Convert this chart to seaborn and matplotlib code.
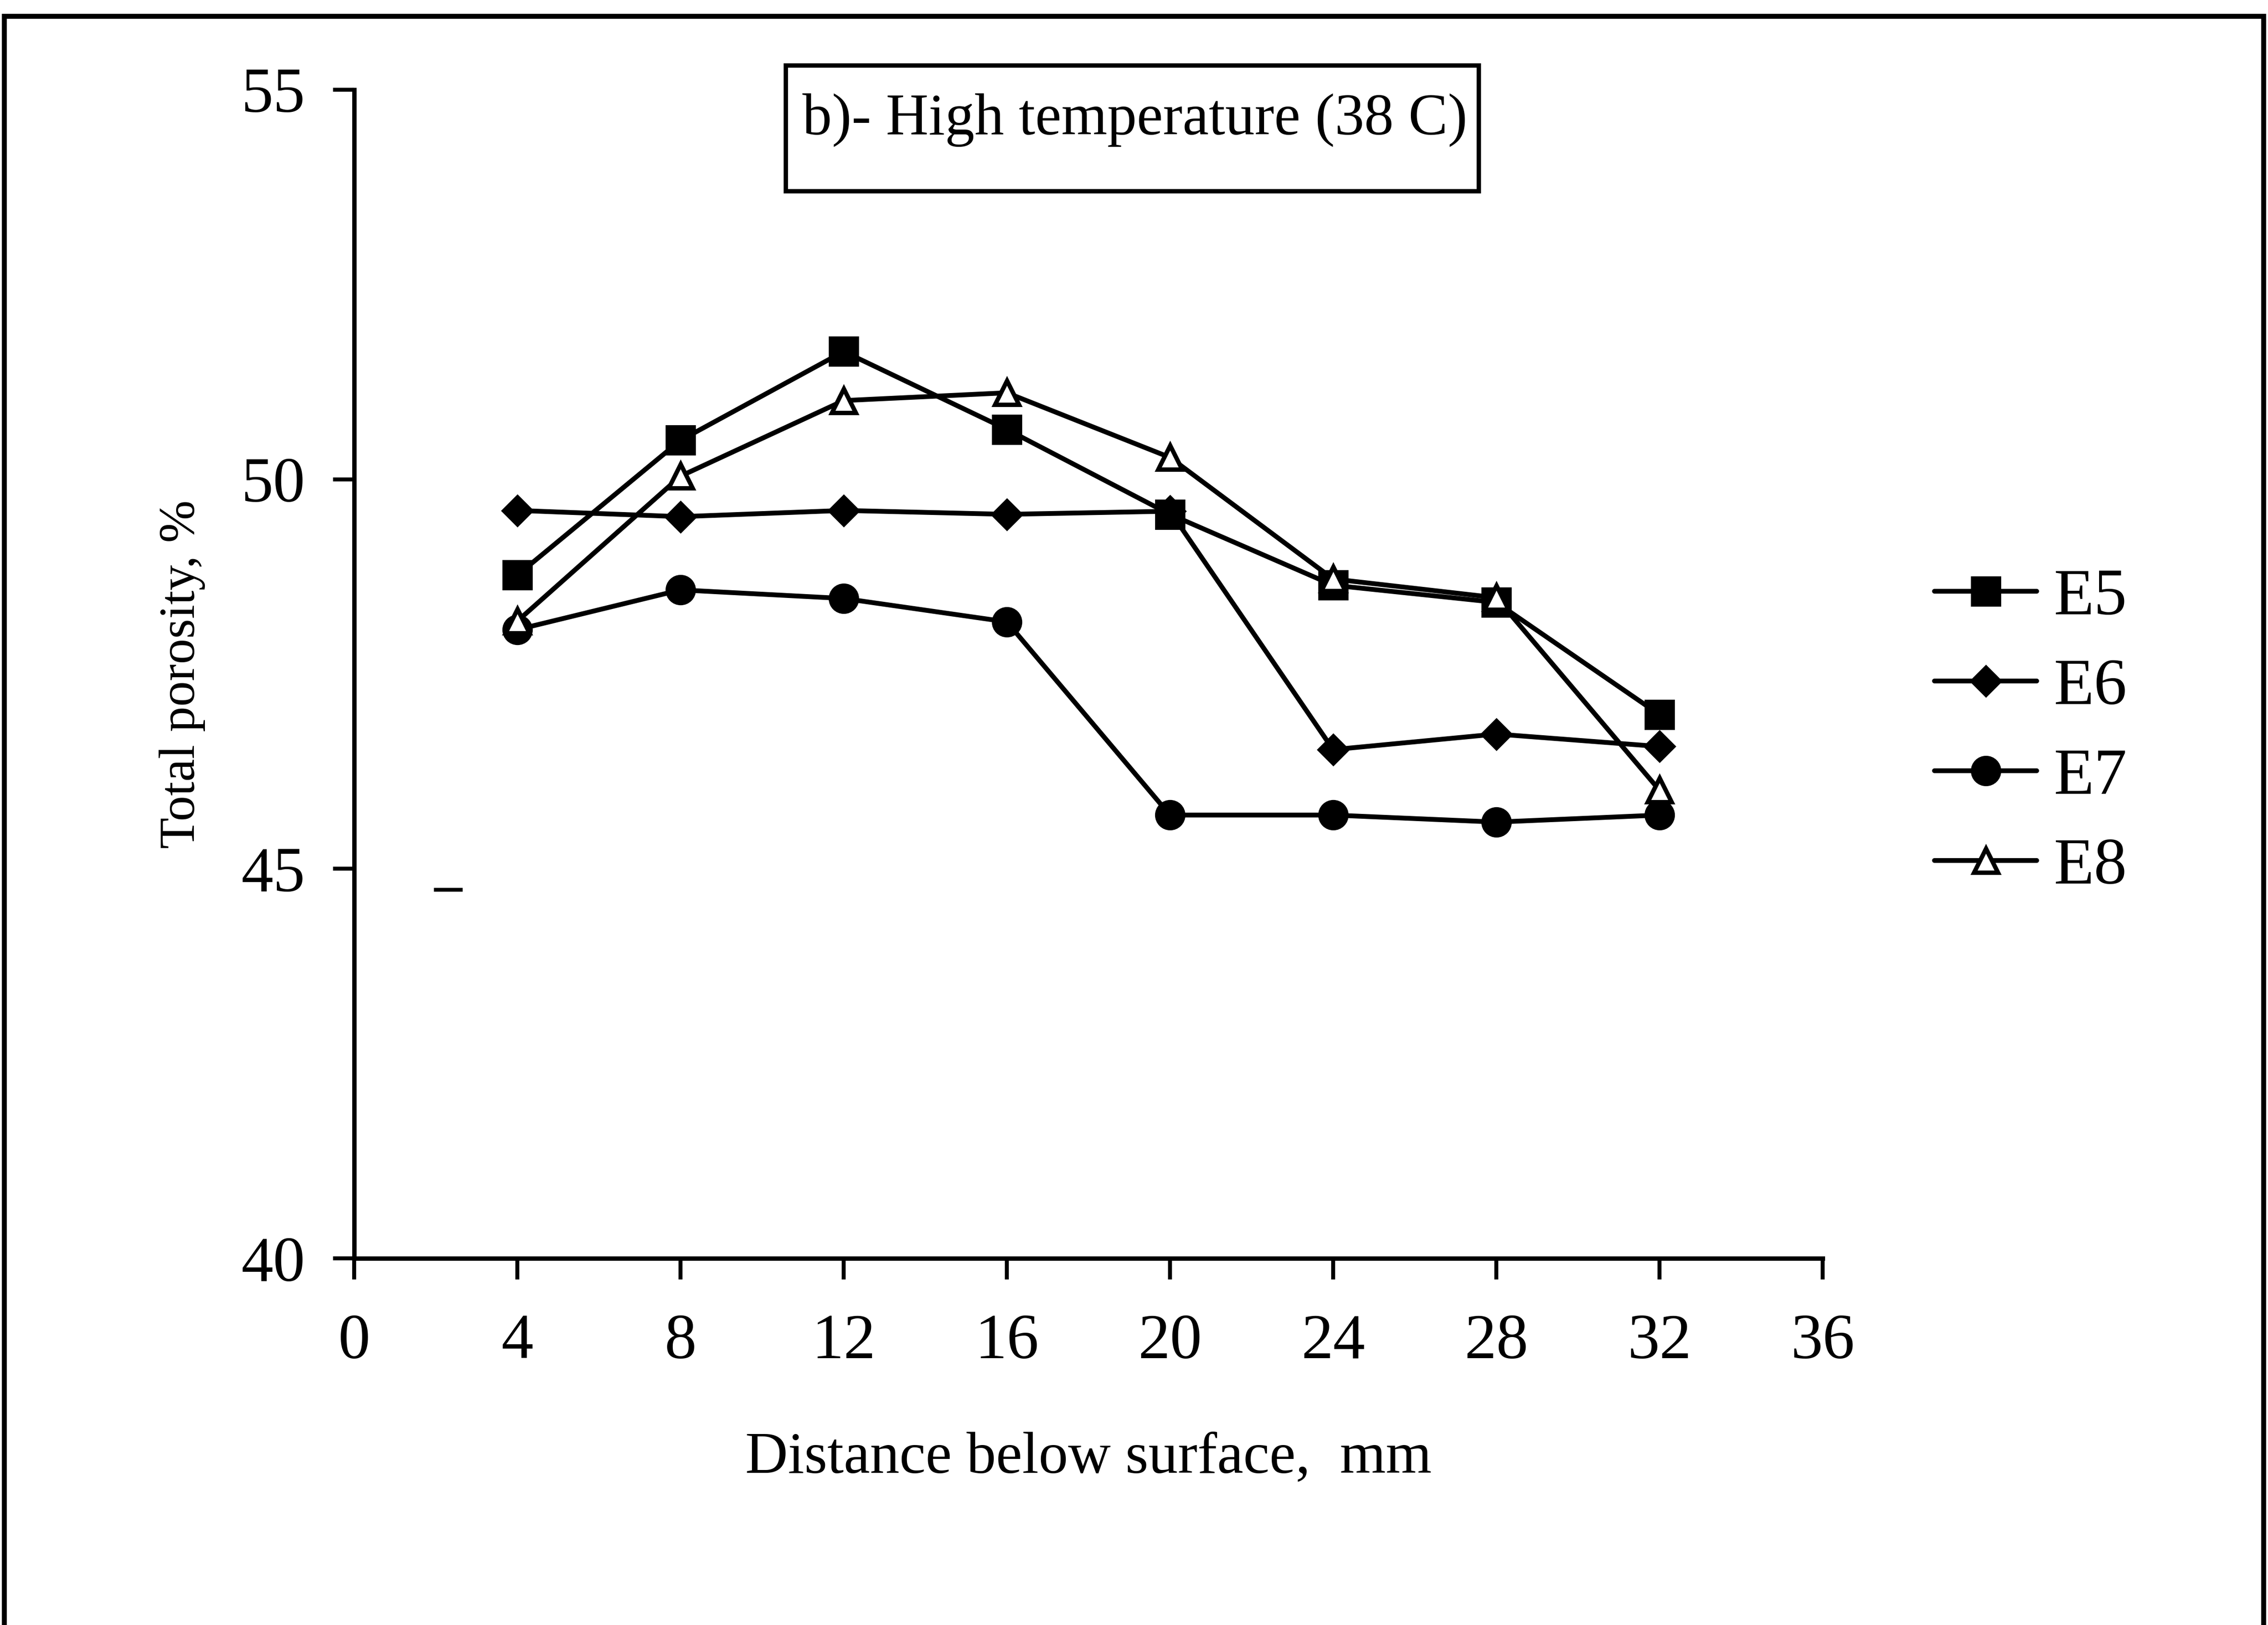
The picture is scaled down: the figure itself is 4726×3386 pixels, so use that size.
import matplotlib
matplotlib.use("Agg")
import matplotlib.pyplot as plt
from matplotlib.patches import Rectangle
import seaborn as sns
import pandas as pd

# Porosity profiles: distance below surface (mm) vs total porosity (%)
depth_mm = [4, 8, 12, 16, 20, 24, 28, 32]
porosity_e5 = [48.77, 50.50, 51.64, 50.64, 49.55, 48.64, 48.42, 46.98]
porosity_e6 = [49.60, 49.52, 49.60, 49.55, 49.59, 46.53, 46.73, 46.57]
porosity_e7 = [48.07, 48.58, 48.47, 48.17, 45.69, 45.69, 45.60, 45.69]
porosity_e8 = [48.18, 50.04, 51.01, 51.11, 50.28, 48.72, 48.48, 46.01]
series_names = ["E5", "E6", "E7", "E8"]
x_ticks = [0, 4, 8, 12, 16, 20, 24, 28, 32, 36]
y_ticks = [40, 45, 50, 55]

data = pd.DataFrame({
    "depth": depth_mm * 4,
    "porosity": porosity_e5 + porosity_e6 + porosity_e7 + porosity_e8,
    "series": [n for n in series_names for _ in depth_mm],
})

sns.set_style("ticks")
plt.rcParams["font.family"] = ["Liberation Serif", "DejaVu Serif"]
plt.rcParams.update({
    "text.color": "black",
    "axes.labelcolor": "black",
    "xtick.color": "black",
    "ytick.color": "black",
    "axes.edgecolor": "black",
})

DPI = 300
fig = plt.figure(figsize=(4726 / DPI, 3386 / DPI), dpi=DPI)
ax = fig.add_axes([0.1562, 0.2256, 0.8036 - 0.1562, 0.9448 - 0.2256])

styles = {
    "E5": dict(marker="s", markersize=13, markerfacecolor="black"),
    "E6": dict(marker="D", markersize=9.5, markerfacecolor="black"),
    "E7": dict(marker="o", markersize=13, markerfacecolor="black"),
    "E8": dict(marker="^", markersize=12, markerfacecolor="white"),
}

for name in series_names:
    sub = data[data["series"] == name]
    sns.lineplot(
        data=sub, x="depth", y="porosity", ax=ax, color="black",
        linewidth=2.4, estimator=None, legend=False,
        markeredgecolor="black", markeredgewidth=2.2,
        label=name, **styles[name],
    )

ax.set_xlim(0, 36)
ax.set_ylim(40, 55)
ax.set_xticks(x_ticks)
ax.set_yticks(y_ticks)
ax.tick_params(axis="both", direction="out", length=10.5, width=2.0,
               labelsize=32, colors="black")
ax.tick_params(axis="x", pad=17)
ax.tick_params(axis="y", pad=14)
for side in ("top", "right"):
    ax.spines[side].set_visible(False)
for side in ("left", "bottom"):
    ax.spines[side].set_linewidth(2.2)
    ax.spines[side].set_color("black")

ax.set_xlabel("Distance below surface,  mm", fontsize=29.5, labelpad=30)
ax.set_ylabel("Total porosity, %", fontsize=25.5, labelpad=18)

# stray dash left of the curves
ax.text(2.3, 44.74, "–", fontsize=28, ha="center", va="center",
        fontweight="bold")

# Legend at the right, without frame
handles = ax.get_lines()[:4]
leg = ax.legend(
    handles, series_names, loc="center left",
    bbox_to_anchor=(0.853, 0.549), bbox_transform=fig.transFigure,
    frameon=False, fontsize=33, handlelength=1.55, handletextpad=0.25,
    labelspacing=0.45, borderpad=0, borderaxespad=0,
)

# Boxed panel heading
fig.patches.append(Rectangle((0.3464, 0.8825), 0.6519 - 0.3464, 0.9598 - 0.8825,
                             transform=fig.transFigure, fill=False,
                             edgecolor="black", linewidth=2.2))
fig.text(0.5003, 0.9175, "b)- High temperature (38 C)", fontsize=29.5,
         ha="center", va="baseline")

# Outer frame around the figure (open at the bottom edge)
fig.patches.append(Rectangle((0.002, -0.02), 0.996, 0.99 + 0.02,
                             transform=fig.transFigure, fill=False,
                             edgecolor="black", linewidth=2.5))

fig.savefig("out.png", dpi=DPI, facecolor="white")
